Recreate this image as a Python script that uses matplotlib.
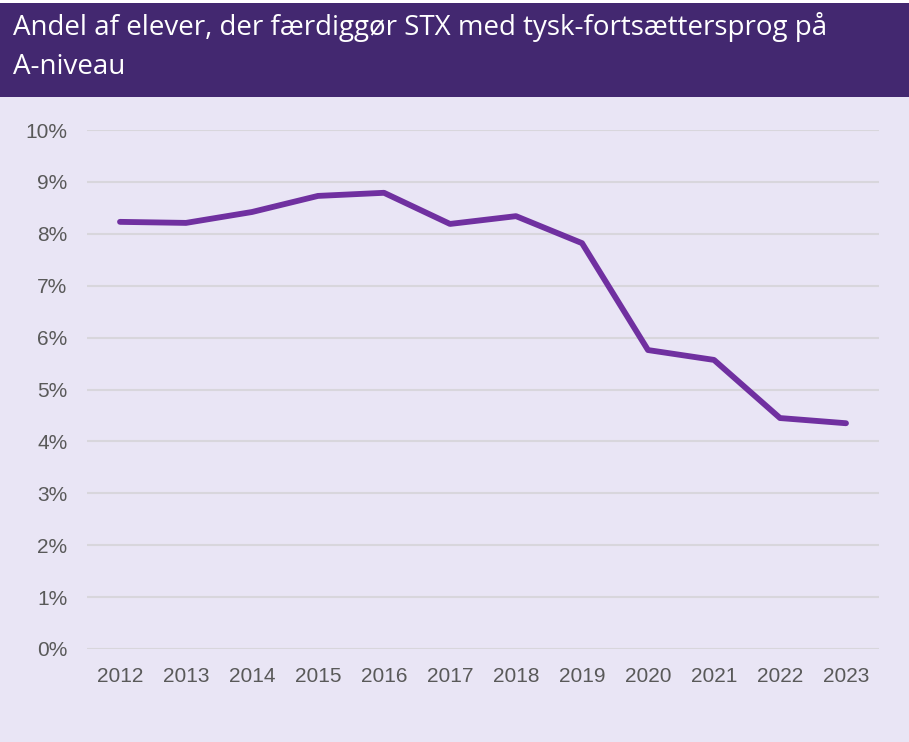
import matplotlib
matplotlib.use("Agg")
import matplotlib.pyplot as plt
from matplotlib.patches import Rectangle

years = ["2012", "2013", "2014", "2015", "2016", "2017", "2018", "2019", "2020", "2021", "2022", "2023"]
values = [8.23, 8.21, 8.42, 8.73, 8.79, 8.19, 8.34, 7.82, 5.76, 5.57, 4.45, 4.35]
yticks = [0, 1, 2, 3, 4, 5, 6, 7, 8, 9, 10]
title_lines = ["Andel af elever, der færdiggør STX med tysk-fortsættersprog på", "A-niveau"]

W, H = 909, 742
fig = plt.figure(figsize=(W / 100, H / 100), dpi=100)
bg = "#E9E5F5"
fig.patch.set_facecolor(bg)
fig.patches.append(Rectangle((0, 1 - 3 / H), 1, 3 / H, transform=fig.transFigure,
                             facecolor="white", edgecolor="none", zorder=0))
fig.patches.append(Rectangle((0, 1 - 97 / H), 1, 94 / H, transform=fig.transFigure,
                             facecolor="#432870", edgecolor="none", zorder=0))
for line, base in zip(title_lines, [35, 74]):
    fig.text(13 / W, 1 - base / H, line, color="white", fontsize=20, family="Open Sans",
             va="baseline", ha="left")

ax = fig.add_axes([87 / W, 1 - 649 / H, (879 - 87) / W, (649 - 130) / H])
ax.set_facecolor(bg)
x = list(range(len(years)))
ax.plot(x, values, color="#7030A0", lw=4.2, solid_capstyle="round", solid_joinstyle="round", zorder=3)
ax.set_xlim(-0.5, len(years) - 0.5)
ax.set_ylim(0, 10)
ax.set_yticks(yticks)
ax.set_yticklabels([f"{t}%" for t in yticks])
ax.set_xticks(x)
ax.set_xticklabels(years)
for s in ax.spines.values():
    s.set_visible(False)
ax.grid(axis="y", color="#D8D6DC", lw=1.5)
ax.set_axisbelow(True)
ax.tick_params(length=0, labelsize=15, labelcolor="#595959")
for lab in ax.get_xticklabels() + ax.get_yticklabels():
    lab.set_family("Liberation Sans")
ax.tick_params(axis="x", pad=13)
ax.tick_params(axis="y", pad=14)
for l in ax.lines:
    l.set_clip_on(False)

fig.savefig("out.png", dpi=100, facecolor=bg)
